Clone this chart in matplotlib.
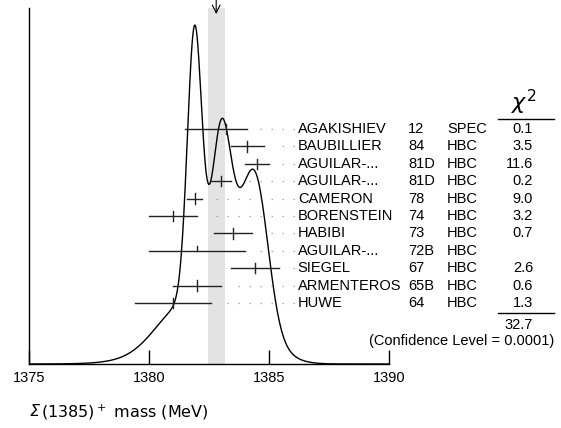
import numpy as np
import matplotlib
matplotlib.use("Agg")
from matplotlib import pyplot as plt

# measurements (MeV)
names = ["AGAKISHIEV", "BAUBILLIER", "AGUILAR-...", "AGUILAR-...", "CAMERON",
         "BORENSTEIN", "HABIBI", "AGUILAR-...", "SIEGEL", "ARMENTEROS", "HUWE"]
years = ["12", "84", "81D", "81D", "78", "74", "73", "72B", "67", "65B", "64"]
techs = ["SPEC", "HBC", "HBC", "HBC", "HBC", "HBC", "HBC", "HBC", "HBC", "HBC", "HBC"]
values = [1383.2, 1384.1, 1384.5, 1383.0, 1381.9, 1381.0, 1383.5, 1382.0, 1384.4, 1382.0, 1381.0]
err_lo = [1.7, 0.7, 0.5, 0.4, 0.3, 1.0, 0.8, 2.0, 1.0, 1.0, 1.6]
err_hi = [0.9, 0.7, 0.5, 0.4, 0.3, 1.0, 0.8, 2.0, 1.0, 1.0, 1.6]
chi2 = ["0.1", "3.5", "11.6", "0.2", "9.0", "3.2", "0.7", "", "2.6", "0.6", "1.3"]
used = [True, True, True, True, True, True, True, False, True, True, True]
chi2_total = "32.7"
conf_level = "0.0001"
avg_lo, avg_hi = 1382.46, 1383.17
avg = 1382.8

plt.rcParams['font.family'] = ['Liberation Sans', 'DejaVu Sans']
plt.rcParams['mathtext.fontset'] = 'dejavusans'

fig = plt.figure(figsize=(5.61, 4.28), dpi=100)
W, H = 561.0, 428.0
ax = fig.add_axes([29 / W, (H - 364) / H, 360 / W, 356 / H])

# ideogram: each measurement a gaussian with area ~ 1/sigma
x = np.linspace(1375, 1390, 1500)
ideo = np.zeros_like(x)
for v, lo, hi, u in zip(values, err_lo, err_hi, used):
    if not u:
        continue
    s = np.where(x < v, lo, hi)
    sm = 0.5 * (lo + hi)
    ideo += (1.0 / sm) * np.exp(-0.5 * ((x - v) / s) ** 2) / sm

ax.axvspan(avg_lo, avg_hi, color="#e3e3e3", lw=0, zorder=0)
ax.plot(x, ideo, color="black", lw=1)
ax.set_xlim(1375, 1390)
ax.set_ylim(0, ideo.max() / 0.952)

for s in ["top", "right"]:
    ax.spines[s].set_visible(False)
ax.spines["left"].set_linewidth(1)
ax.spines["bottom"].set_linewidth(1)
ax.set_yticks([])
ax.set_xticks([1375, 1380, 1385, 1390])
ax.set_xticklabels([])
ax.tick_params(axis="x", direction="in", length=10, width=1)
for t in [1375, 1380, 1385, 1390]:
    ax.text(t, -0.04, str(t), transform=ax.get_xaxis_transform(),
            ha="center", va="center", fontsize=10.5, clip_on=False)

# arrow at average
ax.annotate("", xy=(avg, 0.983), xytext=(avg, 1.03), xycoords=ax.get_xaxis_transform(),
            arrowprops=dict(arrowstyle="->", lw=0.8, color="black", mutation_scale=14,
                            shrinkA=0, shrinkB=0),
            annotation_clip=False)

# rows
ax2 = ax.twinx()
ax2.set_ylim(-3.51, 16.95)
ax2.axis("off")
n = len(names)
for k in range(n):
    r = n - 1 - k
    v = values[k]
    ax2.plot([v - err_lo[k], v + err_hi[k]], [r, r], color="#222222", lw=1)
    if used[k]:
        ax2.plot([v, v], [r - 0.3, r + 0.3], color="#222222", lw=1)
    else:
        ax2.plot([v, v], [r, r + 0.3], color="#222222", lw=1)
    ax2.plot([1386.05, v + err_hi[k] + 0.4], [r, r], color="#555555", lw=0.9,
             linestyle=(0, (0.6, 8.2)))
    ax2.text(1386.2, r, names[k], ha="left", va="center", fontsize=10.5, clip_on=False)
    ax2.text(1390.79, r, years[k], ha="left", va="center", fontsize=10.5, clip_on=False)
    ax2.text(1392.42, r, techs[k], ha="left", va="center", fontsize=10.5, clip_on=False)
    ax2.text(1396.0, r, chi2[k], ha="right", va="center", fontsize=10.5, clip_on=False)

ax2.text(1395.6, 11.55, r"$\chi^2$", ha="center", va="center", fontsize=16, clip_on=False)
ax2.plot([1394.54, 1396.875], [10.57, 10.57], color="black", lw=1, clip_on=False)
ax2.plot([1394.54, 1396.875], [-0.57, -0.57], color="black", lw=1, clip_on=False)
ax2.text(1396.0, -1.26, chi2_total, ha="right", va="center", fontsize=10.5, clip_on=False)
ax2.text(1396.875, -2.18, "(Confidence Level = " + conf_level + ")", ha="right",
         va="center", fontsize=10.5, clip_on=False)

fig.text(30 / W, 1 - 412 / H, "Σ", fontsize=11.5, style="italic",
         family="DejaVu Sans", ha="left", va="center")
fig.text(41 / W, 1 - 412 / H, r"(1385)$^+$ mass (MeV)", fontsize=11.5,
         family="DejaVu Sans", ha="left", va="center")

fig.savefig("out.png", dpi=100)
